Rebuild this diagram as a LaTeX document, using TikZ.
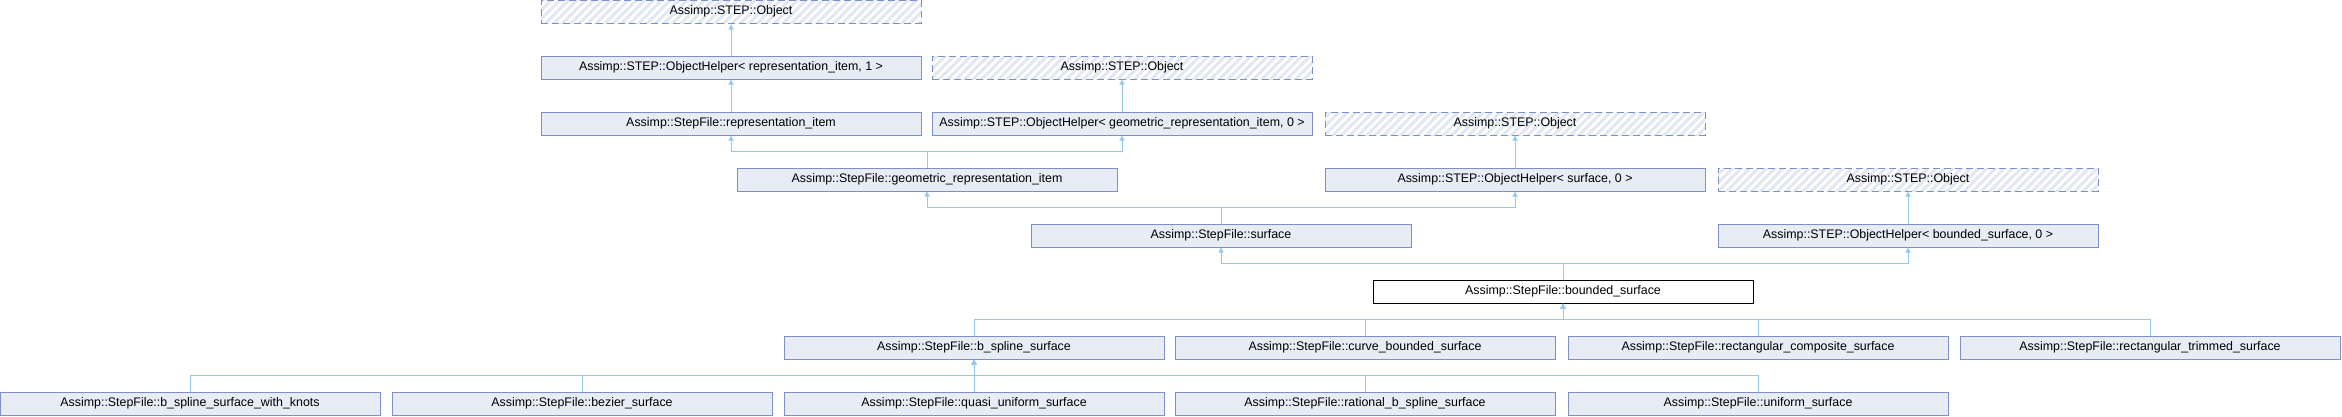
\documentclass[tikz,border=0pt]{standalone}
\usepackage{fontspec}
\setmainfont{Liberation Sans}
\usetikzlibrary{arrows.meta,patterns.meta}
\definecolor{boxfill}{RGB}{232,236,244}
\definecolor{boxline}{RGB}{124,143,202}
\definecolor{linkblue}{RGB}{150,202,236}
\definecolor{hatch}{RGB}{226,231,241}

\begin{document}
\begin{tikzpicture}[x=1pt, y=-1pt,
    cls/.style={draw=boxline, fill=boxfill, line width=1pt, minimum width=380pt,
        minimum height=23pt, inner sep=0pt, font=\fontsize{12.4}{14}\selectfont},
    ext/.style={cls, fill=none, dash pattern=on 7pt off 4pt,
        pattern={Lines[angle=45,distance=6pt,line width=3pt]}, pattern color=hatch},
    cur/.style={cls, draw=black, fill=white},
    inherit/.style={draw=linkblue, line width=1pt, -{Triangle[length=5pt,width=5pt]}}]
    \useasboundingbox (0,0) rectangle (2342,416);

% STEP base classes
\node[ext] (obj1) at (731,11.5) {Assimp::STEP::Object};
\node[cls] (helperRepr) at (731,67.5) {Assimp::STEP::ObjectHelper< representation\_item, 1 >};
\node[ext] (obj2) at (1122,67.5) {Assimp::STEP::Object};
\node[cls] (reprItem) at (731,123.5) {Assimp::StepFile::representation\_item};
\node[cls] (helperGeom) at (1122,123.5) {Assimp::STEP::ObjectHelper< geometric\_representation\_item, 0 >};
\node[ext] (obj3) at (1515,123.5) {Assimp::STEP::Object};
\node[cls] (geomItem) at (927,179.5) {Assimp::StepFile::geometric\_representation\_item};
\node[cls] (helperSurf) at (1515,179.5) {Assimp::STEP::ObjectHelper< surface, 0 >};
\node[ext] (obj4) at (1908,179.5) {Assimp::STEP::Object};
\node[cls] (surf) at (1221,235.5) {Assimp::StepFile::surface};
\node[cls] (helperBounded) at (1908,235.5) {Assimp::STEP::ObjectHelper< bounded\_surface, 0 >};

% the class itself
\node[cur] (bounded) at (1563,291.5) {Assimp::StepFile::bounded\_surface};

% derived classes
\node[cls] (bspline) at (974,347.5) {Assimp::StepFile::b\_spline\_surface};
\node[cls] (curveBounded) at (1365,347.5) {Assimp::StepFile::curve\_bounded\_surface};
\node[cls] (rectComposite) at (1758,347.5) {Assimp::StepFile::rectangular\_composite\_surface};
\node[cls] (rectTrimmed) at (2150,347.5) {Assimp::StepFile::rectangular\_trimmed\_surface};
\node[cls] (bsplineKnots) at (190,403.5) {Assimp::StepFile::b\_spline\_surface\_with\_knots};
\node[cls] (bezier) at (582,403.5) {Assimp::StepFile::bezier\_surface};
\node[cls] (quasiUniform) at (974,403.5) {Assimp::StepFile::quasi\_uniform\_surface};
\node[cls] (rationalBspline) at (1365,403.5) {Assimp::StepFile::rational\_b\_spline\_surface};
\node[cls] (uniform) at (1758,403.5) {Assimp::StepFile::uniform\_surface};

% inheritance links
\draw[inherit] (helperRepr.north) -- (obj1.south);
\draw[inherit] (reprItem.north) -- (helperRepr.south);
\draw[inherit] (helperGeom.north) -- (obj2.south);
\draw[inherit] (helperSurf.north) -- (obj3.south);
\draw[inherit] (helperBounded.north) -- (obj4.south);
\foreach \p in {reprItem,helperGeom}
    \draw[inherit] (geomItem.north) -- ++(0,-16.5) -| (\p.south);
\foreach \p in {geomItem,helperSurf}
    \draw[inherit] (surf.north) -- ++(0,-16.5) -| (\p.south);
\foreach \p in {surf,helperBounded}
    \draw[inherit] (bounded.north) -- ++(0,-16.5) -| (\p.south);
\foreach \c in {bspline,curveBounded,rectComposite,rectTrimmed}
    \draw[inherit] (\c.north) -- ++(0,-16.5) -| (bounded.south);
\foreach \c in {bsplineKnots,bezier,quasiUniform,rationalBspline,uniform}
    \draw[inherit] (\c.north) -- ++(0,-16.5) -| (bspline.south);
\end{tikzpicture}
\end{document}
